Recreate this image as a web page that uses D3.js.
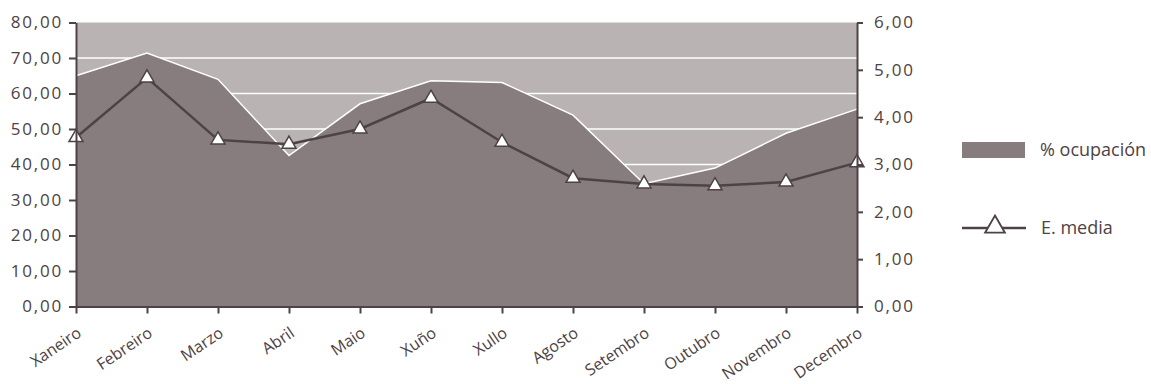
<!DOCTYPE html>
<html lang="gl">
<head>
    <meta charset="UTF-8">
    <title>Ocupación e estadía media</title>
    <script src="https://d3js.org/d3.v7.min.js"></script>
    <style>
        body {
            margin: 0;
            padding: 0;
            background: #fff;
            font-family: "Open Sans", "Noto Sans", sans-serif;
        }
        .axis text {
            font-family: "Open Sans", sans-serif;
            font-size: 16px;
            fill: #4d4245;
        }
        .axis.y text {
            font-size: 17px;
            letter-spacing: 1.8px;
        }
        .legend text {
            font-size: 18px;
            fill: #4d4245;
        }
    </style>
</head>
<body>
    <svg id="chart" width="1151" height="384"></svg>

    <script>
        // Data
        const months = ["Xaneiro", "Febreiro", "Marzo", "Abril", "Maio", "Xuño",
                        "Xullo", "Agosto", "Setembro", "Outubro", "Novembro", "Decembro"];
        const ocupacion = [65.0, 71.4, 64.0, 42.5, 57.1, 63.6, 63.1, 53.9, 34.6, 39.0, 48.8, 55.6];
        const estadia = [3.57, 4.83, 3.52, 3.43, 3.75, 4.40, 3.47, 2.71, 2.59, 2.55, 2.63, 3.04];
        const leftTicks = [0, 10, 20, 30, 40, 50, 60, 70, 80];
        const rightTicks = [0, 1, 2, 3, 4, 5, 6];
        const legendLabels = ["% ocupación", "E. media"];

        const axisColor = "#4d4245";
        const areaColor = "#877d7e";
        const bgColor = "#b9b3b3";

        const margin = { top: 22.5, left: 76 };
        const width = 781;
        const height = 284;

        const svg = d3.select("#chart");
        const g = svg.append("g")
            .attr("transform", `translate(${margin.left},${margin.top})`);

        const x = d3.scalePoint().domain(months).range([0, width]);
        const yL = d3.scaleLinear().domain([0, 80]).range([height, 0]);
        const yR = d3.scaleLinear().domain([0, 6]).range([height, 0]);

        const fmt = d => d3.format(".2f")(d).replace(".", ",");

        // plot background
        g.append("rect")
            .attr("width", width)
            .attr("height", height)
            .attr("fill", bgColor);

        // gridlines
        g.selectAll(".grid")
            .data(leftTicks.slice(1, -1))
            .join("line")
            .attr("x1", 0)
            .attr("x2", width)
            .attr("y1", d => yL(d))
            .attr("y2", d => yL(d))
            .attr("stroke", "#fff")
            .attr("stroke-width", 1.5);

        // area
        const area = d3.area()
            .x((d, i) => x(months[i]))
            .y0(height)
            .y1(d => yL(d));
        g.append("path")
            .datum(ocupacion)
            .attr("d", area)
            .attr("fill", areaColor);

        const topLine = d3.line()
            .x((d, i) => x(months[i]))
            .y(d => yL(d));
        g.append("path")
            .datum(ocupacion)
            .attr("d", topLine)
            .attr("fill", "none")
            .attr("stroke", "#fff")
            .attr("stroke-width", 1.5);

        // estadia media line
        const line = d3.line()
            .x((d, i) => x(months[i]))
            .y(d => yR(d));
        g.append("path")
            .datum(estadia)
            .attr("d", line)
            .attr("fill", "none")
            .attr("stroke", axisColor)
            .attr("stroke-width", 2.5);

        const tri = d3.symbol().type(d3.symbolTriangle).size(85);
        g.selectAll(".marker")
            .data(estadia)
            .join("path")
            .attr("class", "marker")
            .attr("d", tri)
            .attr("transform", (d, i) => `translate(${x(months[i])},${yR(d)})`)
            .attr("fill", "#fff")
            .attr("stroke", axisColor)
            .attr("stroke-width", 1.5);

        // axes
        function styleAxis(sel) {
            sel.selectAll(".domain").attr("stroke", axisColor).attr("stroke-width", 2);
            sel.selectAll(".tick line").attr("stroke", axisColor).attr("stroke-width", 2);
        }

        g.append("g")
            .attr("class", "axis y")
            .call(d3.axisLeft(yL).tickValues(leftTicks).tickFormat(fmt).tickSize(7).tickSizeOuter(0).tickPadding(6))
            .call(styleAxis);

        g.append("g")
            .attr("class", "axis y")
            .attr("transform", `translate(${width},0)`)
            .call(d3.axisRight(yR).tickValues(rightTicks).tickFormat(fmt).tickSize(6).tickSizeOuter(0).tickPadding(11))
            .call(styleAxis);

        g.append("g")
            .attr("class", "axis")
            .attr("transform", `translate(0,${height})`)
            .call(d3.axisBottom(x).tickSize(7).tickSizeOuter(0))
            .call(styleAxis)
            .selectAll("text")
            .attr("x", 0)
            .attr("y", 0)
            .attr("dy", 0)
            .attr("transform", "translate(6,29) rotate(-34)")
            .style("text-anchor", "end");

        // legend
        const legend = svg.append("g").attr("class", "legend");
        legend.append("rect")
            .attr("x", 962)
            .attr("y", 142)
            .attr("width", 63)
            .attr("height", 16)
            .attr("fill", areaColor);
        legend.append("text")
            .attr("x", 1040)
            .attr("y", 150)
            .attr("dy", "0.35em")
            .text(legendLabels[0]);

        legend.append("line")
            .attr("x1", 962)
            .attr("x2", 1026)
            .attr("y1", 228)
            .attr("y2", 228)
            .attr("stroke", axisColor)
            .attr("stroke-width", 2.5);
        legend.append("path")
            .attr("d", d3.symbol().type(d3.symbolTriangle).size(170))
            .attr("transform", "translate(995,227)")
            .attr("fill", "#fff")
            .attr("stroke", axisColor)
            .attr("stroke-width", 1.8);
        legend.append("text")
            .attr("x", 1041)
            .attr("y", 228)
            .attr("dy", "0.35em")
            .text(legendLabels[1]);
    </script>
</body>
</html>
